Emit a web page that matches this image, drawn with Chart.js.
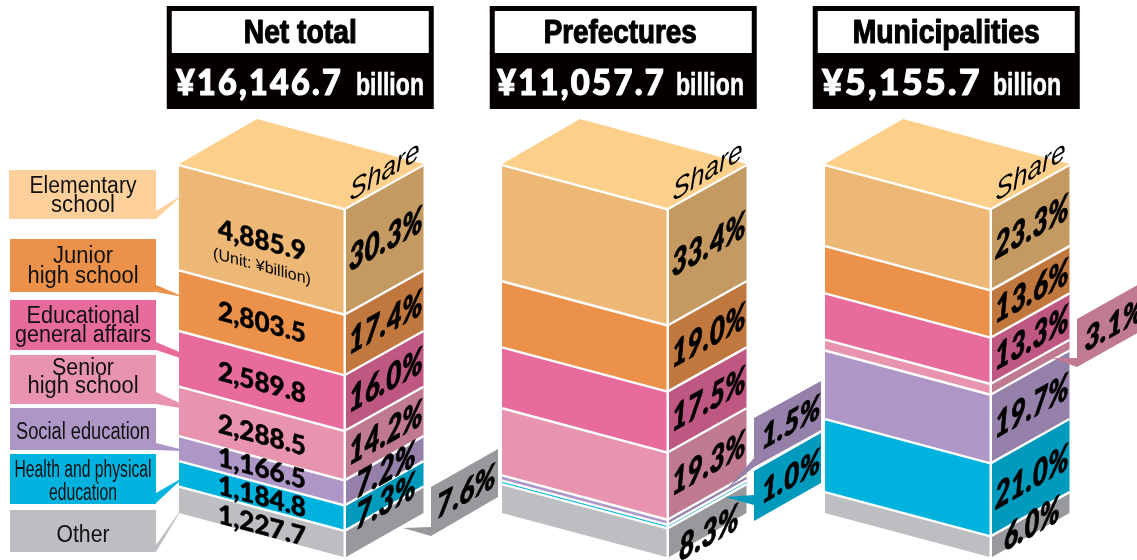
<!DOCTYPE html>
<html>
<head>
<meta charset="utf-8">
<style>
  html, body { margin: 0; padding: 0; background: #fff; }
  canvas { display: block; }
</style>
<script src="https://cdn.jsdelivr.net/npm/chart.js@4"></script>
</head>
<body>
<canvas id="chart" width="1137" height="560"></canvas>
<script>
// ---------- data ----------
const categories = ['Net total', 'Prefectures', 'Municipalities'];
const amounts = ['¥16,146.7', '¥11,057.7', '¥5,155.7'];
const segments = ['Other', 'Health and physical education', 'Social education', 'Senior high school', 'Educational general affairs', 'Junior high school', 'Elementary school'];

// share (%) per column, bottom segment first
const other      = [7.6, 8.3, 6.0];
const health     = [7.3, 1.0, 21.0];
const social     = [7.2, 1.5, 19.7];
const senior     = [14.2, 19.3, 3.1];
const educ       = [16.0, 17.5, 13.3];
const junior     = [17.4, 19.0, 13.6];
const elementary = [30.3, 33.4, 23.3];

// billions of yen, only printed on the first column
const netAmounts = ['1,227.7', '1,184.8', '1,166.5', '2,288.5', '2,589.8', '2,803.5', '4,885.9'];

// ---------- styles ----------
const frontColors = ['#BCBEC1', '#00B2DE', '#AE97C7', '#E994AF', '#E76C9B', '#EC914A', '#EDB775'];
const sideColors  = ['#97999C', '#009ABC', '#9480A8', '#BF7A92', '#BE5781', '#C1783E', '#C59A62'];
const topColor = '#FCCF8B';
const FRONT = 164.5 / 244.5;  // share of bar width used by front face
const GAP = 2.5 / 244.5;
const RISE = 44;              // px the outer corners sit above the middle edge
const LATO = 'Lato, "DejaVu Sans", sans-serif';
const NARROW = '"Liberation Sans", Arial, sans-serif';

function poly(ctx, pts, fill) {
  ctx.beginPath();
  pts.forEach((p, i) => i ? ctx.lineTo(p[0], p[1]) : ctx.moveTo(p[0], p[1]));
  ctx.closePath();
  ctx.fillStyle = fill;
  ctx.fill();
}

// text sheared along a face: slope >0 runs downhill, <0 uphill
function shearText(ctx, txt, x, y, font, slope, maxW, bold) {
  ctx.save();
  ctx.transform(1, slope, 0, 1, x, y);
  ctx.font = font;
  ctx.textAlign = 'center';
  ctx.textBaseline = 'middle';
  ctx.fillStyle = '#000';
  ctx.fillText(txt, 0, 0, maxW);
  if (bold) {
    ctx.strokeStyle = '#000';
    ctx.lineWidth = bold;
    ctx.lineJoin = 'round';
    ctx.strokeText(txt, 0, 0, maxW);
  }
  ctx.restore();
}

// ---------- side labels with pointer ----------
const legendBoxes = [
  { color: '#FFD09B', x: 9, y: 170, h: 49, ptr: [[156, 211], [184, 194], [156, 219]], lines: [['Elementary', 193, 107], ['school', 212, 64]] },
  { color: '#EC914A', x: 10, y: 239, h: 53, ptr: [[156, 285], [184, 297], [156, 292]], lines: [['Junior', 263, 60], ['high school', 283, 111]] },
  { color: '#E76C9B', x: 10, y: 300, h: 50, ptr: [[156, 342], [184, 354], [180, 358], [156, 350]], lines: [['Educational', 323, 113], ['general affairs', 342, 136]] },
  { color: '#E994AF', x: 10, y: 355, h: 49, ptr: [[156, 392], [184, 405], [180, 408], [156, 404]], lines: [['Senior', 375, 62], ['high school', 393, 111]] },
  { color: '#AE97C7', x: 10, y: 408, h: 42, ptr: [[156, 443], [180, 449], [180, 451], [156, 450]], lines: [['Social education', 439, 134]] },
  { color: '#00B2DE', x: 10, y: 454, h: 50, ptr: [[156, 493], [184, 477], [156, 503]], lines: [['Health and physical', 477, 137], ['education', 500, 68]] },
  { color: '#BCBEC1', x: 10, y: 510, h: 42, ptr: [[156, 545], [184, 505], [156, 552]], lines: [['Other', 542, 53]] }
];

// ---------- callouts for segments too thin to label ----------
const callouts = [
  { col: 0, seg: 0, color: '#97999C', cx: 466, cy: 492,
    pts: [[431, 487], [498, 449], [498, 497], [431, 536], [403, 528], [431, 527]] },
  { col: 1, seg: 2, color: '#9480A8', cx: 791, cy: 423,
    pts: [[754, 418], [821, 381], [821, 430], [754, 467], [727, 489], [754, 458]] },
  { col: 1, seg: 1, color: '#009ABC', cx: 791, cy: 477,
    pts: [[754, 471], [821, 433], [821, 483], [754, 521], [754, 505], [725, 497], [754, 495]] },
  { col: 2, seg: 3, color: '#C07A94', cx: 1114, cy: 325,
    pts: [[1077, 319], [1150, 278], [1150, 326], [1077, 367], [1052, 358], [1077, 358]] }
];

// nudges / smaller type where the original squeezes labels: key col-seg
const pctTweak = {
  '0-1': { dy: 6, w: 60 },
  '0-2': { dy: 0, w: 60 },
  '1-0': { dy: 13, w: 60 },
  '2-0': { dy: 0, w: 56 }
};
const numTweak = { 0: 4, 1: 1, 2: -2, 3: 2, 4: 2, 5: 0, 6: 1 };
const titleX = [0, -3, 0];

const boxPlugin = {
  id: 'boxPlugin',
  afterDatasetsDraw(chart) {
    const ctx = chart.ctx;
    const x = chart.scales.x;
    const y = chart.scales.y;
    const metas = chart.data.datasets.map((d, i) => chart.getDatasetMeta(i));

    categories.forEach((name, c) => {
      const first = metas[0].data[c];
      const w = first.width;
      const left = first.x - w / 2;
      const mid = left + w * FRONT;
      const sideL = mid + w * GAP;
      const right = left + w;

      // segment faces
      metas.forEach((meta, s) => {
        const b = meta.data[c];
        const t = b.y, bt = b.base;
        poly(ctx, [[left, t - RISE], [mid, t], [mid, bt], [left, bt - RISE]], frontColors[s]);
        poly(ctx, [[sideL, t], [right, t - RISE], [right, bt - RISE], [sideL, bt]], sideColors[s]);
      });
      // separators
      ctx.strokeStyle = '#fff';
      ctx.lineWidth = 2.4;
      metas.forEach(meta => {
        const t = meta.data[c].y;
        ctx.beginPath();
        ctx.moveTo(left, t - RISE);
        ctx.lineTo(mid + 1, t + 0.3);
        ctx.lineTo(right, t - RISE);
        ctx.stroke();
      });

      // lid
      const topY = y.getPixelForValue(100);
      poly(ctx, [[left, topY - RISE - 1], [left + 78, topY - 90], [right, topY - RISE - 1], [mid + 1, topY - 1]], topColor);
      shearText(ctx, 'Share', right - 39, topY - 37, 'italic 29px ' + NARROW, -0.62, 70);

      // shares on the side face
      metas.forEach((meta, s) => {
        const val = chart.data.datasets[s].data[c];
        if (callouts.some(k => k.col === c && k.seg === s)) return;
        const b = meta.data[c];
        const tw = pctTweak[c + '-' + s] || {};
        const cx = (sideL + right) / 2 + 1;
        const cy = (b.y + b.base) / 2 - RISE / 2 + (tw.dy || 0);
        shearText(ctx, val.toFixed(1) + '%', cx, cy, 'italic 900 36px ' + LATO, -0.56, tw.w || 74, 0.8);
      });

      // header
      const cx = x.getPixelForValue(c) - 1;
      const hx = cx - 133.5;
      ctx.fillStyle = '#040000';
      ctx.fillRect(hx, 6, 267, 103);
      ctx.fillStyle = '#fff';
      ctx.fillRect(hx + 5, 11, 257, 42);
      ctx.fillStyle = '#040000';
      ctx.strokeStyle = '#040000';
      ctx.lineWidth = 1.2;
      ctx.lineJoin = 'round';
      ctx.font = 'bold 33px ' + NARROW;
      ctx.textAlign = 'center';
      ctx.textBaseline = 'alphabetic';
      const tw = [113, 153, 187][c];
      ctx.fillText(name, cx + titleX[c], 43, tw);
      ctx.strokeText(name, cx + titleX[c], 43, tw);
      ctx.fillStyle = '#fff';
      ctx.strokeStyle = '#fff';
      ctx.font = '900 36px ' + LATO;
      ctx.textAlign = 'left';
      const ax = [176, 497, 822][c];
      const aw = [167, 169, 160][c];
      ctx.letterSpacing = '2.5px';
      ctx.fillText(amounts[c], ax, 95, aw);
      ctx.strokeText(amounts[c], ax, 95, aw);
      ctx.letterSpacing = '0px';
      ctx.font = 'bold 31px ' + NARROW;
      ctx.lineWidth = 0.6;
      ctx.fillText('billion', [356, 676, 993][c], 95, 68);
      ctx.strokeText('billion', [356, 676, 993][c], 95, 68);
    });

    // values on the first column front
    metas.forEach((meta, s) => {
      const b = meta.data[0];
      const left = b.x - b.width / 2;
      const cx = left + 83;
      const cy = (b.y + b.base) / 2 - RISE + 83 * 0.267 + numTweak[s];
      shearText(ctx, netAmounts[s], cx, cy, '900 27px ' + LATO, 0.267, 88, 0.4);
    });
    const topSeg = metas[metas.length - 1].data[0];
    shearText(ctx, '(Unit: ¥billion)', topSeg.x - topSeg.width / 2 + 83, 267, '16px ' + NARROW, 0.267, 99);

    // callouts
    callouts.forEach(k => {
      poly(ctx, k.pts, k.color);
      const v = chart.data.datasets[k.seg].data[k.col];
      shearText(ctx, v.toFixed(1) + '%', k.cx, k.cy, 'italic 900 33px ' + LATO, -0.56, 59, 0.8);
    });

    // left labels
    legendBoxes.forEach(b => {
      ctx.fillStyle = b.color;
      ctx.fillRect(b.x, b.y, 156 - b.x, b.h);
      poly(ctx, b.ptr, b.color);
      ctx.fillStyle = '#111';
      ctx.font = '23px ' + NARROW;
      ctx.textAlign = 'center';
      ctx.textBaseline = 'alphabetic';
      b.lines.forEach(l => ctx.fillText(l[0], 83, l[1], l[2]));
    });
  }
};

const series = [other, health, social, senior, educ, junior, elementary];

new Chart(document.getElementById('chart'), {
  type: 'bar',
  data: {
    labels: categories,
    datasets: series.map((data, i) => ({
      label: segments[i],
      data: data,
      backgroundColor: 'rgba(0,0,0,0)',
      borderWidth: 0
    }))
  },
  options: {
    responsive: false,
    animation: false,
    barPercentage: 244.5 / 323,
    categoryPercentage: 1,
    layout: { padding: { left: 139.75, right: 28.25, top: 209, bottom: 3 } },
    plugins: { legend: { display: false }, tooltip: { enabled: false }, title: { display: false } },
    scales: {
      x: { stacked: true, display: false },
      y: { stacked: true, display: false, min: 0, max: 100 }
    }
  },
  plugins: [boxPlugin]
});
</script>
</body>
</html>
